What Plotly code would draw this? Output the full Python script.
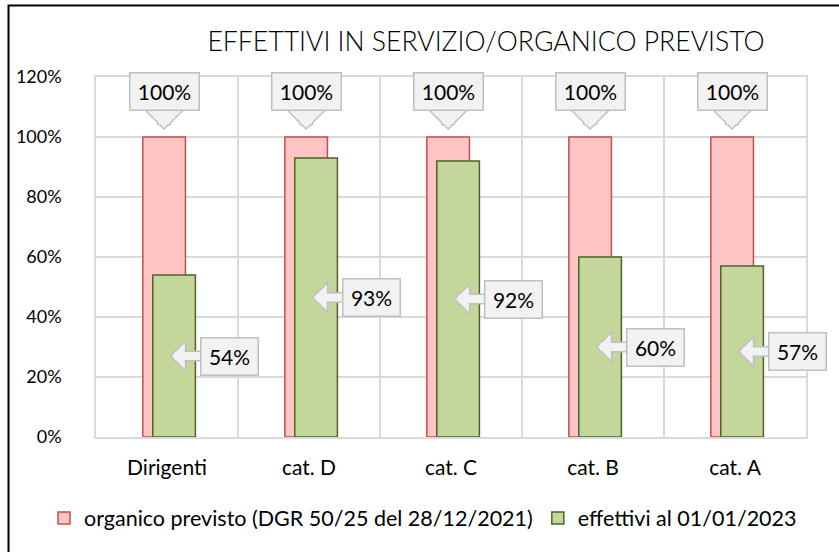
import plotly.graph_objects as go

categories = ["Dirigenti", "cat. D", "cat. C", "cat. B", "cat. A"]
organico = [1.0, 1.0, 1.0, 1.0, 1.0]
effettivi = [0.54, 0.93, 0.92, 0.60, 0.57]
y_tick_vals = [0, 0.2, 0.4, 0.6, 0.8, 1.0, 1.2]
y_tick_text = ["0%", "20%", "40%", "60%", "80%", "100%", "120%"]
series_names = ["organico previsto (DGR 50/25 del 28/12/2021)", "effettivi al 01/01/2023"]
title_text = "EFFETTIVI IN SERVIZIO/ORGANICO PREVISTO"

FONT = "Lato"
W = 0.30
OFF_RED = -0.17
OFF_GREEN = -0.10
BOX_FILL = "#F2F2F2"
BOX_LINE = "#BFBFBF"

fig = go.Figure()
fig.add_trace(go.Bar(
    x=categories, y=organico, name=series_names[0], width=W, offset=OFF_RED,
    marker=dict(color="#FFC4C4", line=dict(color="#C0504D", width=1.5)),
))
fig.add_trace(go.Bar(
    x=categories, y=effettivi, name=series_names[1], width=W, offset=OFF_GREEN,
    marker=dict(color="#C4D79B", line=dict(color="#4F6228", width=1.5)),
))

annotations = []


def arrow(x, y, ax, ay, w_out, s_out, w_in, s_in, xshift=0, yshift=0):
    # outlined block arrow made of two stacked arrows
    return [
        dict(x=x, y=y, xref="x", yref="y", text="", showarrow=True,
             ax=ax, ay=ay, arrowhead=1, arrowsize=s_out, arrowwidth=w_out,
             arrowcolor=BOX_LINE, xshift=xshift, yshift=yshift),
        dict(x=x, y=y, xref="x", yref="y", text="", showarrow=True,
             ax=ax, ay=ay, arrowhead=1, arrowsize=s_in, arrowwidth=w_in,
             arrowcolor=BOX_FILL, standoff=2, xshift=xshift, yshift=yshift),
    ]


# top callouts (organico)
for i, v in enumerate(organico):
    xc = i + OFF_RED + W / 2
    annotations += arrow(xc, v, 0, -22, 14, 0.58, 11, 0.6, yshift=7)
    annotations.append(dict(x=xc, y=v, xref="x", yref="y", text=f"{v:.0%}",
                            showarrow=False, yshift=46, width=62, height=30,
                            borderpad=3, bgcolor=BOX_FILL, bordercolor=BOX_LINE,
                            borderwidth=1.5, font=dict(family=FONT, size=21, color="#000")))

# side callouts (effettivi)
for i, v in enumerate(effettivi):
    xc = i + OFF_GREEN + W / 2 - 0.03
    annotations += arrow(xc, v / 2, 32, 0, 11, 0.5, 8, 0.54)
    annotations.append(dict(x=xc, y=v / 2, xref="x", yref="y", text=f"{v:.0%}",
                            showarrow=False, xshift=60, width=50, height=30,
                            borderpad=3, bgcolor=BOX_FILL, bordercolor=BOX_LINE,
                            borderwidth=1.5, font=dict(family=FONT, size=21, color="#000")))

fig.update_layout(
    width=839, height=552,
    margin=dict(l=96, r=33, t=77, b=115, autoexpand=False),
    paper_bgcolor="white", plot_bgcolor="white",
    barmode="overlay",
    font=dict(family=FONT, size=18, color="#000"),
    title=dict(text=title_text, x=486 / 839, xanchor="center", y=1 - 42 / 552,
               yanchor="middle",
               font=dict(family=FONT, size=26.6, weight=300, color="#000")),
    xaxis=dict(type="category", range=[-0.5, 4.5], tickson="boundaries",
               showgrid=True, gridcolor="#D9D9D9", gridwidth=1.5, ticks="",
               showline=True, linecolor="#D9D9D9", linewidth=1.5, mirror=True,
               automargin=False, ticklabelstandoff=11, tickfont=dict(size=21)),
    yaxis=dict(range=[0, 1.2], tickvals=y_tick_vals, ticktext=y_tick_text,
               showgrid=True, gridcolor="#D9D9D9", gridwidth=1.5, ticks="",
               showline=True, linecolor="#D9D9D9", linewidth=1.5, mirror=True,
               automargin=False, zeroline=False, ticklabelstandoff=29,
               tickfont=dict(size=18)),
    legend=dict(orientation="h", x=(44 - 96) / 710, xanchor="left",
                y=(437 - 518) / 360, yanchor="middle",
                font=dict(size=21.5), itemwidth=30, traceorder="normal"),
    annotations=annotations,
    shapes=[dict(type="rect", xref="paper", yref="paper",
                 x0=(8.5 - 96) / 710, x1=1.1, y0=-0.4, y1=(437 - 5.5) / 360,
                 line=dict(color="#000", width=2))],
)

fig.write_html(
    "out.html",
    config={"displayModeBar": False},
    post_script="document.body.style.margin='0';document.body.style.overflow='hidden';",
)
